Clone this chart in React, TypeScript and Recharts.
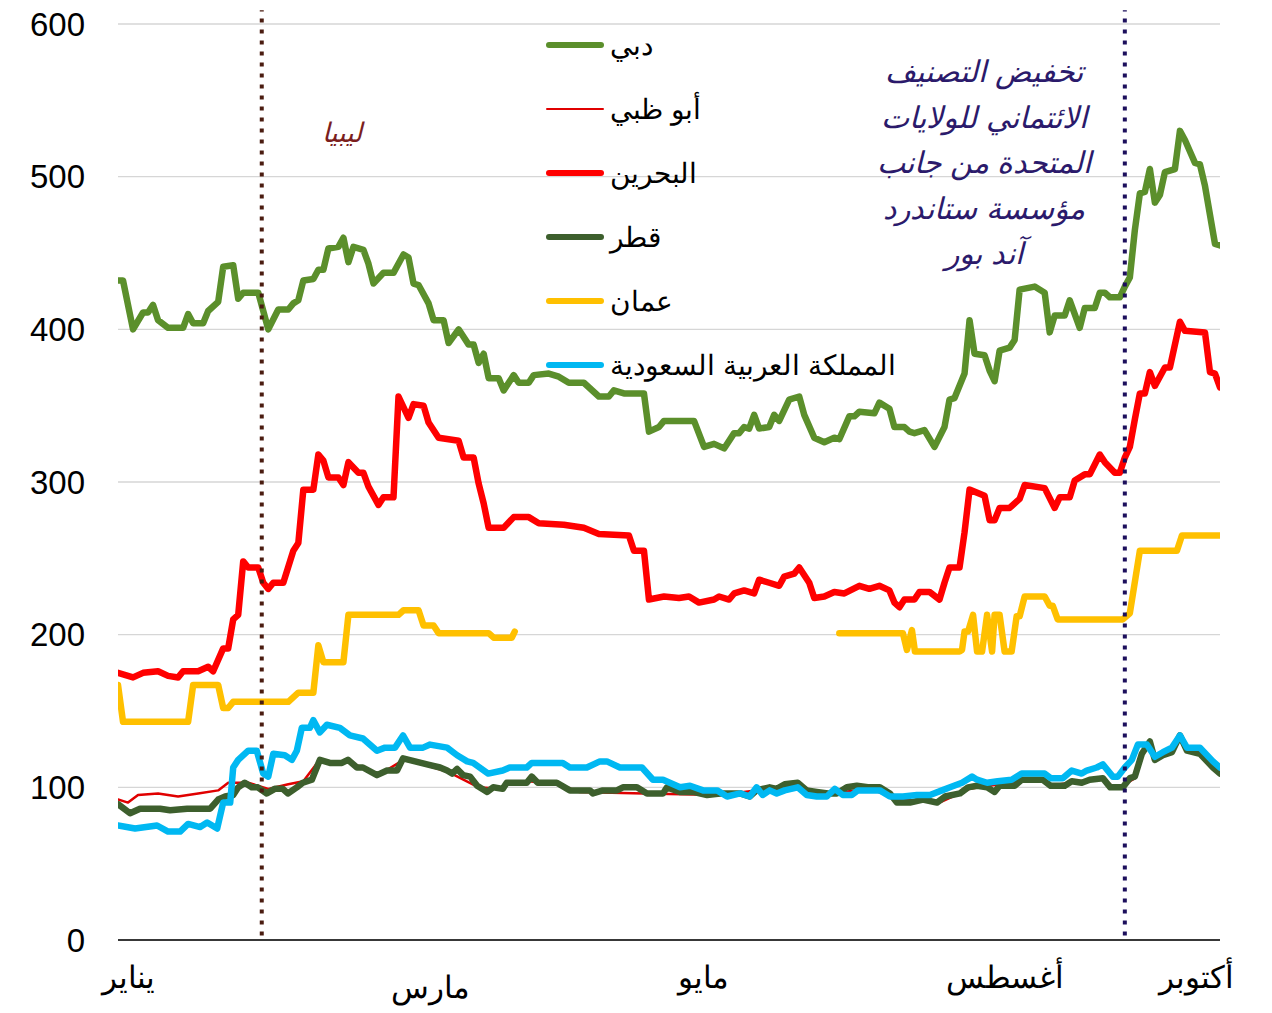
import React from "react";
import { CartesianGrid, Line, LineChart, ReferenceLine, XAxis, YAxis } from "recharts";

// x = trading-day index (0 = start of January), y = CDS spread in basis points
const dubai: [number, number][] = [
  [0, 432], [1, 432], [3, 400], [5, 411], [6, 411], [7, 416], [8, 406], [10, 401], [13, 401], [14, 410],
  [15, 404], [17, 404], [18, 412], [20, 418], [21, 441], [23, 442], [24, 420], [25, 424], [28, 424], [30, 400],
  [32, 413], [34, 413], [35, 417], [36, 419], [37, 432], [39, 433], [40, 439], [41, 439], [42, 453], [44, 454],
  [45, 460], [46, 444], [47, 454], [49, 452], [50, 443], [51, 430], [53, 437], [55, 437], [57, 449], [58, 447],
  [59, 430], [60, 429], [62, 417], [63, 406], [65, 406], [66, 391], [68, 400], [70, 390], [71, 390], [72, 378],
  [73, 384], [74, 368], [76, 368], [77, 360], [79, 370], [80, 365], [82, 365], [83, 370], [86, 371], [88, 369],
  [90, 365], [93, 365], [96, 356], [98, 356], [99, 360], [101, 358], [105, 358], [106, 333], [108, 336], [109, 340],
  [115, 340], [117, 323], [119, 325], [121, 322], [123, 332], [124, 332], [125, 336], [126, 335], [127, 344], [128, 335],
  [130, 336], [131, 344], [132, 340], [134, 354], [136, 356], [137, 344], [139, 329], [141, 326], [143, 329], [144, 328],
  [146, 343], [147, 343], [148, 346], [151, 345], [152, 352], [154, 348], [155, 336], [157, 336], [158, 333], [159, 332],
  [161, 334], [163, 323], [165, 336], [166, 354], [167, 355], [169, 371], [170, 406], [171, 384], [173, 383], [174, 373],
  [175, 366], [176, 386], [178, 388], [179, 393], [180, 426], [183, 428], [185, 424], [186, 398], [187, 409], [189, 409],
  [190, 419], [192, 401], [193, 414], [195, 414], [196, 424], [197, 424], [198, 421], [200, 421], [201, 428], [202, 434],
  [203, 465], [204, 489], [205, 490], [206, 505], [207, 483], [208, 488], [209, 503], [211, 505], [212, 530], [213, 524],
  [215, 509], [216, 508], [217, 494], [219, 456], [220, 455],
];

const abuDhabi: [number, number][] = [
  [0, 92], [2, 90], [4, 95], [8, 96], [12, 94], [16, 96], [20, 98], [22, 103], [26, 103], [30, 99],
  [34, 102], [37, 104], [40, 117], [46, 117], [52, 108], [57, 118], [62, 114], [66, 110], [72, 100], [76, 99],
  [78, 102], [82, 104], [88, 102], [92, 97], [105, 96], [120, 95], [130, 99], [136, 102], [140, 95], [150, 99],
  [156, 92], [164, 90], [170, 99], [180, 104], [184, 105], [186.2, 101], [190, 103], [194, 105], [196.6, 106], [198.4, 101],
  [200.6, 101], [203, 106], [204.4, 121], [206, 129], [207, 119], [208.6, 121], [210.4, 123], [212, 133], [213.4, 124], [216, 121],
  [220, 108],
];

const bahrain: [number, number][] = [
  [0, 175], [3, 172], [5, 175], [8, 176], [10, 173], [12, 172], [13, 176], [16, 176], [18, 179], [19, 176],
  [21, 191], [22, 191], [23, 210], [24, 213], [25, 248], [26, 244], [28, 244], [29, 234], [30, 230], [31, 234],
  [33, 234], [35, 255], [36, 260], [37, 295], [39, 295], [40, 318], [41, 314], [42, 303], [44, 303], [45, 298],
  [46, 313], [48, 306], [49, 306], [50, 297], [52, 285], [53, 290], [55, 290], [56, 356], [58, 342], [59, 351],
  [61, 350], [62, 339], [64, 329], [68, 327], [69, 316], [71, 316], [72, 299], [73, 286], [74, 270], [77, 270],
  [79, 277], [82, 277], [84, 273], [89, 272], [93, 270], [96, 266], [102, 265], [103, 255], [105, 255], [106, 223],
  [109, 225], [112, 224], [114, 225], [116, 221], [119, 223], [120, 225], [122, 223], [123, 227], [125, 229], [127, 227],
  [128, 236], [130, 234], [132, 232], [133, 238], [135, 240], [136, 244], [138, 234], [139, 224], [141, 225], [143, 228],
  [145, 227], [148, 232], [150, 230], [152, 232], [154, 229], [155, 221], [156, 218], [157, 223], [159, 223], [160, 228],
  [162, 228], [164, 223], [165, 234], [166, 244], [168, 244], [169, 267], [170, 295], [173, 291], [174, 275], [175, 275],
  [176, 283], [178, 283], [180, 289], [181, 298], [185, 296], [187, 283], [188, 290], [190, 290], [191, 301], [193, 305],
  [194, 305], [196, 318], [197, 313], [199, 306], [200, 306], [201, 316], [202, 323], [203, 341], [204, 358], [205, 358],
  [206, 372], [207, 363], [209, 375], [210, 375], [212, 405], [213, 399], [217, 398], [218, 372], [219, 371], [220, 362],
];

const qatar: [number, number][] = [
  [0, 89], [2.4, 83], [4.4, 86], [8.4, 86], [10.4, 85], [13.8, 86], [18.4, 86], [20, 92], [21.4, 94], [23, 95],
  [24, 100], [25.3, 103], [26.7, 100], [27.9, 100], [29.7, 96], [31.3, 99], [32.9, 99], [33.9, 96], [35.7, 100], [36.9, 103],
  [38.7, 105], [40.3, 118], [42.3, 116], [44.7, 116], [45.9, 118], [47.7, 113], [48.9, 113], [51.7, 108], [53.7, 111], [55.7, 111],
  [56.9, 119], [59.3, 117], [61.7, 115], [64.3, 113], [65.7, 111], [66.7, 109], [67.7, 112], [68.9, 108], [70.3, 107], [71.7, 101],
  [73.7, 97], [74.9, 100], [76.8, 99], [77.6, 103], [81.6, 103], [82.6, 107], [83.8, 103], [87.6, 103], [90.2, 98], [94.2, 98],
  [94.8, 96], [96.8, 98], [99.6, 98], [100.8, 100], [103.6, 100], [105.6, 96], [108.8, 96], [109.6, 100], [112.2, 97], [114.8, 97],
  [117.6, 95], [120.2, 96], [124.2, 96], [126.1, 94], [127.5, 98], [130.1, 100], [131.5, 99], [133.1, 102], [135.7, 103], [137.5, 98],
  [139.5, 97], [141.7, 96], [143.5, 96], [145.5, 100], [147.5, 101], [149.7, 100], [152.1, 100], [154.1, 96], [155.5, 90], [158.1, 90],
  [160.7, 92], [163.5, 90], [165.1, 94], [168.1, 96], [169.7, 100], [171.5, 101], [173.5, 100], [175, 97], [176, 101], [179, 101],
  [180.4, 105], [184.6, 105], [186.2, 101], [189, 101], [190.4, 104], [192.4, 103], [194, 105], [196.6, 106], [198.1, 100], [200.6, 100],
  [202, 106], [203, 107], [204.4, 122], [206, 130], [207, 118], [208.6, 121], [210.4, 123], [212, 134], [213.4, 124], [216, 122],
  [218.6, 113], [220, 109],
];

const oman: [number, number | null][] = [
  [0, 167], [1, 143], [14, 143], [15, 167], [20, 167], [21, 152], [22, 152], [23, 156], [34, 156], [36, 162],
  [39, 162], [40, 193], [41, 182], [45, 182], [46, 213], [56, 213], [57, 216], [60, 216], [61, 206], [63, 206],
  [64, 201], [74, 201], [75, 198], [78.6, 198], [79.2, 202], [80, null],
  [144, 201], [156.7, 201], [157.5, 190], [158.5, 203], [159.1, 189], [168, 189], [168.5, 190], [169, 202], [169.7, 202], [170.7, 213],
  [171.5, 189], [172.5, 189], [173.5, 213], [174.5, 189], [175, 213], [176, 213], [177, 189], [178.4, 189], [179.4, 212], [180, 212],
  [181, 225], [185, 225], [186, 219], [186.6, 219], [187.6, 210], [200.6, 210], [202, 214], [204, 255], [211.4, 255], [212.4, 265],
  [220, 265],
];

const saudi: [number, number][] = [
  [0, 75], [3.4, 73], [7.8, 75], [10, 71], [12.4, 71], [14, 76], [16.4, 74], [17.8, 77], [19.8, 73], [21, 90],
  [22.4, 90], [23, 113], [24, 118], [26, 124], [27.7, 124], [29, 109], [30, 107], [31, 122], [33.3, 121], [34.7, 118],
  [35.7, 124], [36.7, 139], [38.3, 139], [39, 144], [40.3, 136], [41.7, 141], [44.3, 139], [46.3, 134], [48.9, 132], [51.7, 124],
  [53.3, 126], [55.3, 126], [56.9, 134], [58.3, 126], [60.9, 126], [62.3, 128], [65.7, 126], [67.7, 121], [69.7, 117], [70.9, 116],
  [73.9, 109], [76.8, 111], [78.2, 113], [81.6, 113], [82.6, 116], [88.8, 116], [90.2, 113], [93.6, 113], [96.2, 117], [97.6, 117],
  [100.2, 113], [104.6, 113], [106.8, 105], [108.8, 105], [112.2, 100], [114.2, 101], [116.8, 98], [119.6, 98], [121.6, 94], [124.2, 96],
  [126.1, 94], [127.5, 100], [128.7, 95], [130.1, 98], [131.5, 96], [133.1, 98], [135.7, 100], [137.5, 95], [139.5, 94], [141.5, 94],
  [143.1, 99], [144.7, 95], [146.5, 95], [147.7, 98], [152.1, 98], [154.1, 94], [156.7, 94], [159.5, 95], [162.1, 95], [164.5, 98],
  [166.1, 100], [168.5, 103], [170.5, 107], [171.5, 105], [173.5, 103], [175.6, 104], [178.4, 105], [180.4, 109], [185, 109], [186.2, 106],
  [188.6, 106], [190.4, 111], [192.4, 109], [193.4, 111], [195.4, 113], [196.6, 115], [198.6, 107], [199.6, 107], [201, 113], [202.4, 118],
  [203.6, 128], [205.4, 128], [207, 120], [208.6, 123], [210.4, 126], [212, 134], [213.4, 126], [216, 126], [218.6, 117], [220, 113],
];

const monthTicks = [2, 62.3, 116.8, 177, 215.4];
const monthLabels = ["يناير", "مارس", "مايو", "أغسطس", "أكتوبر"];
const yTicks = [0, 100, 200, 300, 400, 500, 600];

const libyaDay = 28.7;
const downgradeDay = 201;

const series = [
  { name: "دبي", points: dubai, color: "#5b8f2b", width: 6.5 },
  { name: "أبو ظبي", points: abuDhabi, color: "#e00000", width: 2.5 },
  { name: "البحرين", points: bahrain, color: "#ff0000", width: 6.5 },
  { name: "قطر", points: qatar, color: "#3d5f2d", width: 6.5 },
  { name: "عمان", points: oman, color: "#ffc000", width: 6.5 },
  { name: "المملكة العربية السعودية", points: saudi, color: "#00b8f2", width: 6.5 },
];

const downgradeNote = [
  "تخفيض التصنيف",
  "الائتماني للولايات",
  "المتحدة من جانب",
  "مؤسسة ستاندرد",
  "آند بور",
];

const toRows = (pts: [number, number | null][]) => pts.map(([t, v]) => ({ t, v }));

const MonthTick = ({ x, y, payload }: any) => {
  const i = monthTicks.indexOf(payload.value);
  return (
    <text x={x} y={y + (i === 1 ? 58 : 48)} textAnchor="middle" fontSize={31} fill="#000">
      {monthLabels[i]}
    </text>
  );
};

export default function App() {
  return (
    <div
      style={{
        position: "fixed",
        left: 0,
        top: 0,
        width: 1272,
        height: 1013,
        background: "#fff",
        fontFamily: "'Liberation Sans', Arial, sans-serif",
      }}
    >
      <LineChart width={1272} height={1013} margin={{ top: 24, right: 52, left: 8, bottom: 0 }}>
        <CartesianGrid vertical={false} stroke="#d6d6d6" strokeWidth={1.3} />
        <XAxis
          type="number"
          dataKey="t"
          domain={[0, 220]}
          ticks={monthTicks}
          interval={0}
          tick={<MonthTick />}
          tickLine={false}
          tickSize={0}
          tickMargin={0}
          axisLine={{ stroke: "#000", strokeWidth: 1.5 }}
          height={73}
          allowDataOverflow
        />
        <YAxis
          domain={[0, 600]}
          ticks={yTicks}
          axisLine={false}
          tickLine={false}
          tickSize={0}
          tickMargin={33}
          width={110}
          tick={{ fontSize: 33, fill: "#000" }}
        />
        {series.map((s) => (
          <Line
            key={s.name}
            data={toRows(s.points)}
            dataKey="v"
            name={s.name}
            type="linear"
            stroke={s.color}
            strokeWidth={s.width}
            strokeLinejoin="round"
            strokeLinecap="round"
            dot={false}
            activeDot={false}
            isAnimationActive={false}
          />
        ))}
        <ReferenceLine
          segment={[{ x: libyaDay, y: 3 }, { x: libyaDay, y: 609 }]}
          ifOverflow="visible"
          stroke="#4a1c10"
          strokeWidth={4}
          strokeDasharray="4 7"
        />
        <ReferenceLine
          segment={[{ x: downgradeDay, y: 3 }, { x: downgradeDay, y: 609 }]}
          ifOverflow="visible"
          stroke="#1c0f5c"
          strokeWidth={4}
          strokeDasharray="4 7"
        />
      </LineChart>

      {/* legend */}
      <div style={{ position: "absolute", left: 546, top: 13 }}>
        {series.map((s) => (
          <div key={s.name} style={{ height: 64, display: "flex", alignItems: "center" }}>
            <div style={{ width: 58, height: s.width, background: s.color, borderRadius: 4 }} />
            <span style={{ fontSize: 28, color: "#000", marginLeft: 6, whiteSpace: "nowrap" }}>{s.name}</span>
          </div>
        ))}
      </div>

      <div
        style={{
          position: "absolute",
          left: 292,
          top: 117,
          width: 100,
          textAlign: "center",
          fontSize: 27,
          fontStyle: "italic",
          color: "#7b1e1e",
        }}
      >
        ليبيا
      </div>

      <div
        style={{
          position: "absolute",
          left: 844,
          top: 49,
          width: 280,
          textAlign: "center",
          fontSize: 30,
          lineHeight: "45.5px",
          fontStyle: "italic",
          color: "#2b1a6b",
        }}
      >
        {downgradeNote.map((l) => (
          <div key={l}>{l}</div>
        ))}
      </div>
    </div>
  );
}
